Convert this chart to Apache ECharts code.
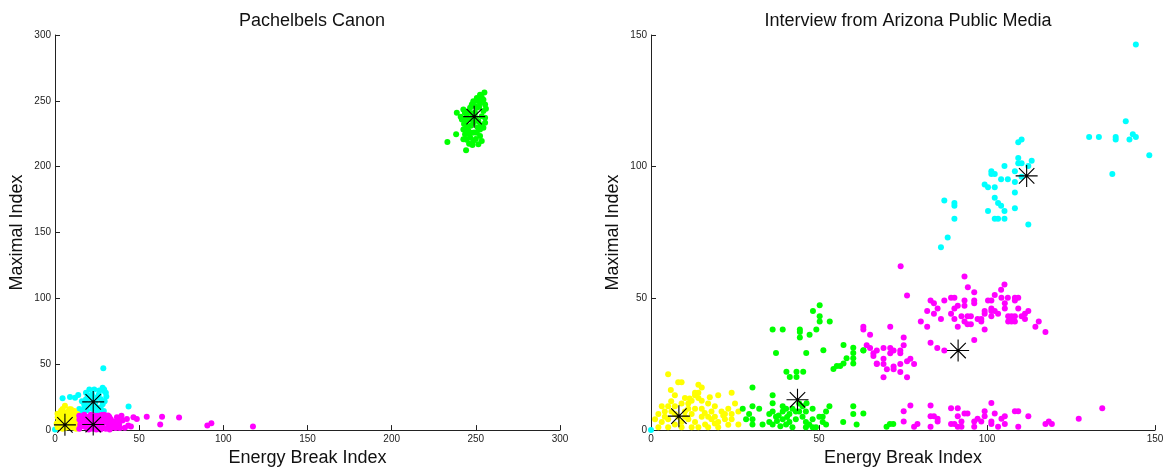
<!DOCTYPE html>
<html><head><meta charset="utf-8">
<script src="https://cdn.jsdelivr.net/npm/echarts@6/dist/echarts.min.js"></script>
<style>html,body{margin:0;padding:0;background:#fff}#c{width:1171px;height:472px}</style>
</head><body><div id="c"></div>
<script>
// ---------- Left plot: Pachelbels Canon ----------
const leftTitle = "Pachelbels Canon";
const rightTitle = "Interview from Arizona Public Media";
const xName = "Energy Break Index";
const yName = "Maximal Index";

const L_green = [[255.1,256.4],[252.5,254.7],[250.6,252.2],[248.5,249.7],[247.6,247.2],[254.5,250.9],[255.5,247.2],[252.5,248.4],
 [238.7,240.9],[242.6,243.4],[244.6,238.4],[246.6,244.7],[250.6,244.7],[254.5,242.2],[255.5,237.2],[255.5,233.4],
 [242.6,228.3],[243.6,224.6],[242.6,220.8],[246.6,222.1],[250.6,225.8],[252.5,228.3],[253.5,219.5],[238.3,224.6],
 [233.1,218.8],[244.2,212.5],[248.5,219.5],[247.6,225.8],[252.5,223.3],[241.7,235.9],[244.6,230.9],[246.6,235.9],
 [251.5,234.6],[253.5,238.4],[248.5,233.4],[249.5,241.0],[251.0,230.0],[245.5,227.5],[253.0,231.5],[249.0,226.0],
 [243.5,241.0],[245.5,242.0],[247.5,240.5],[252.0,245.5],[253.5,252.5],[249.5,246.0],[251.0,250.0],[244.0,235.0],
 [243.0,232.5],[254.5,229.5],[250.0,237.0],[247.0,231.0],[245.0,225.0],[244.5,220.5],[250.0,221.0],[248.0,216.5],
 [241.0,238.0],[256.0,244.0],[246.0,217.5],[251.5,217.0]];
const L_cyan = [[28.7,47.0],[4.5,24.1],[8.9,25.1],[11.9,24.6],[13.8,26.6],[18.4,28.4],[20.4,30.8],[23.3,30.8],[26.3,30.1],
 [28.3,32.1],[29.2,29.6],[24.3,24.6],[27.3,23.4],[28.3,19.7],[25.3,17.2],[22.3,16.0],[27.3,16.0],[17.4,19.7],[14.4,16.0],
 [18.4,23.4],[21.3,23.4],[29.2,30.8],[30.2,28.4],[43.7,17.9],[0.0,0.5],[16.0,22.0],[20.0,19.0],[24.0,21.0],[26.0,27.0],
 [16.0,14.5],[19.0,15.0],[22.0,27.0],[19.5,26.0],[25.0,13.5],[29.5,22.0],[30.5,25.5],[29.0,14.5],[17.5,17.5],[23.0,18.5]];
const L_yellow = [[5.9,18.4],[8.5,15.9],[10.5,13.4],[3.6,12.2],[7.5,10.9],[11.5,9.7],[2.6,6.0],[6.5,7.2],[10.5,6.0],[12.5,3.5],
 [1.6,2.2],[4.5,1.0],[8.5,2.2],[12.5,1.0],[9.5,15.9],[3.6,14.7],[6.5,13.4],[1.6,9.7],[13.4,12.2],[5.5,4.7],[9.5,8.5],
 [4.0,8.0],[8.0,5.0],[11.0,2.0],[2.5,3.5],[6.0,1.5],[12.0,7.5],[7.0,12.0],[1.0,5.0],[3.0,10.5],[5.0,11.5],[9.0,11.5],
 [12.5,10.5],[13.0,5.5],[1.5,12.5],[4.5,3.0],[7.5,3.5],[10.0,4.0],[11.5,14.5],[8.0,14.0],[4.5,16.0],[2.5,8.0]];
const L_magenta = [[14.4,10.9],[17.4,11.7],[21.3,11.7],[25.3,10.9],[29.2,11.7],[32.2,10.2],[15.4,6.0],[19.4,7.2],[23.3,6.0],
 [27.3,7.2],[31.2,6.0],[34.2,6.7],[14.4,1.0],[18.4,2.2],[22.3,1.0],[26.3,1.7],[30.2,1.0],[34.2,2.2],[36.2,6.0],[16.4,8.5],
 [24.3,8.5],[28.3,3.5],[20.0,4.0],[17.0,3.0],[32.0,3.5],[25.0,3.5],[36.8,9.7],[39.5,10.9],[42.7,8.5],[46.6,9.7],[48.6,8.5],
 [41.5,1.7],[43.5,3.5],[45.1,2.7],[54.5,10.2],[63.6,10.2],[73.7,9.5],[62.5,4.2],[90.5,3.5],[92.9,5.2],[117.6,2.7],
 [38.1,4.2],[40.1,7.2],[15.0,4.0],[18.5,5.0],[21.5,8.5],[23.0,11.0],[26.0,5.0],[28.5,9.5],[30.5,8.5],[33.0,8.5],
 [19.5,10.0],[27.5,11.5],[31.5,11.0],[35.5,3.5],[37.5,7.5],[21.0,2.5],[24.5,0.5],[29.0,5.5],[33.5,4.5],[16.5,10.5],
 [14.5,8.0],[20.0,0.5],[27.0,0.5],[32.5,0.5],[36.0,1.5],[38.5,1.5]];
const L_centers = [[249.0,238.0],[22.7,21.4],[5.9,4.0],[22.7,4.2]];

// ---------- Right plot: Interview from Arizona Public Media ----------
const R_cyan = [[0,0],[144.3,146.4],[141.3,117.3],[130.4,111.3],[133.3,111.3],[138.3,111.3],[138.3,110.3],[143.4,112.3],
 [144.3,111.3],[142.4,110.3],[148.3,104.3],[137.3,97.2],[109.3,109.3],[110.3,110.3],[109.3,103.3],[113.3,102.3],
 [109.3,101.3],[110.3,101.3],[112.3,100.3],[105.2,100.3],[101.3,98.3],[102.3,97.2],[101.3,97.2],[108.3,98.3],
 [110.3,96.2],[104.2,95.2],[106.2,95.2],[108.3,94.2],[99.3,93.2],[100.3,92.2],[102.3,92.2],[108.3,90.2],[102.3,88.2],
 [103.3,86.2],[104.2,85.2],[100.3,83.2],[105.2,83.2],[108.3,84.2],[102.3,80.2],[103.3,80.2],[105.2,80.2],[112.3,78.1],
 [87.3,87.2],[90.3,86.2],[90.3,85.2],[90.3,80.2],[88.3,73.1],[86.3,69.4]];
const R_magenta = [[74.3,62.2],[76.2,51.1],[93.3,58.3],[94.3,54.2],[96.2,52.3],[105.2,55.3],[104.2,53.3],[102.3,51.3],
 [83.2,49.2],[84.2,48.2],[87.3,49.2],[89.3,50.2],[90.3,50.2],[93.3,49.2],[96.2,49.2],[96.2,48.2],[100.3,49.2],[101.3,49.2],
 [104.3,50.2],[106.2,50.2],[108.3,50.2],[109.3,50.2],[108.3,49.2],[105.3,48.2],[85.3,46.2],[82.2,45.2],[84.2,44.2],
 [89.3,44.2],[91.3,47.2],[90.3,46.2],[93.3,47.2],[92.4,43.2],[90.3,42.2],[86.3,42.2],[80.3,41.2],[82.2,39.2],[91.3,39.2],
 [93.3,41.2],[94.2,40.2],[95.2,40.2],[94.2,43.2],[95.2,43.2],[97.2,42.2],[98.3,42.2],[99.3,45.2],[99.3,44.2],[101.3,46.2],
 [101.3,45.2],[102.3,45.2],[103.3,44.2],[101.3,43.2],[105.3,46.2],[106.3,43.2],[107.3,43.2],[108.3,43.2],[109.3,46.2],
 [110.3,43.2],[111.3,42.2],[112.3,45.2],[111.3,44.2],[106.3,41.2],[107.3,41.2],[108.3,41.2],[98.3,41.2],[99.3,38.2],
 [96.2,34.2],[115.4,41.2],[114.4,39.2],[117.4,37.2],
 [63.2,39.2],[63.2,38.2],[71.2,39.2],[65.2,36.2],[75.2,35.2],[83.2,33.2],[85.2,31.2],[87.3,30.2],[64.2,32.2],[65.2,31.2],
 [66.2,29.2],[66.2,28.1],[67.2,30.2],[69.2,31.2],[71.2,31.2],[71.2,29.2],[72.2,30.2],[74.2,30.2],[74.2,29.2],[75.2,32.2],
 [69.2,27.1],[67.2,25.1],[69.2,25.1],[70.2,23.1],[72.2,24.1],[72.2,23.1],[74.2,25.1],[74.2,22.1],[76.2,26.1],[77.2,27.1],
 [78.3,25.1],[76.2,20.1],[69.2,20.1],[67.2,25.3],
 [75.2,7.2],[77.2,9.3],[75.2,3.3],[78.3,1.3],[79.3,2.3],[83.2,9.3],[83.2,5.3],[84.2,5.3],[85.3,4.3],[85.3,3.3],[83.2,1.3],
 [89.3,8.3],[91.3,8.3],[91.3,5.3],[89.3,2.3],[90.3,2.3],[91.3,1.3],[92.4,1.3],[92.4,3.3],[93.3,6.3],[94.2,6.3],[96.2,3.3],
 [97.2,4.3],[96.2,1.3],[98.3,3.3],[99.3,7.2],[99.3,5.3],[101.3,10.3],[102.3,6.3],[101.3,3.3],[101.3,2.3],[103.3,1.3],
 [104.3,4.3],[105.3,5.3],[105.3,2.3],[108.3,7.2],[109.3,7.2],[109.3,1.3],[112.3,5.3],[117.4,2.3],[118.4,3.3],[119.3,2.3],
 [127.3,4.3],[134.3,8.3]];
const R_green = [[50.2,47.4],[48.2,45.2],[50.2,43.2],[50.2,41.2],[53.2,41.2],[49.2,38.2],[47.2,36.2],[36.2,38.2],[39.2,38.2],
 [44.3,38.2],[44.3,37.2],[44.3,35.2],[37.2,29.3],[46.2,29.3],[51.3,30.3],[57.3,32.3],[60.2,31.3],[60.2,29.3],[60.2,27.3],
 [60.2,25.3],[58.2,27.3],[57.3,25.3],[56.3,24.3],[55.3,24.3],[54.3,23.2],[63.2,30.3],[40.3,22.2],[43.3,22.2],[45.3,22.2],
 [41.3,20.2],[43.3,20.2],[30.2,16.2],[36.2,13.2],[36.2,10.2],[46.3,10.2],
 [27.3,8.1],[30.2,9.1],[32.2,8.1],[29.2,6.1],[30.2,4.1],[28.3,4.1],[30.2,2.1],[33.2,2.1],[36.2,7.1],[35.2,6.1],[37.2,5.1],
 [35.2,3.1],[36.2,2.1],[39.2,9.1],[39.2,7.1],[40.2,8.1],[41.2,6.1],[42.1,8.1],[43.1,7.1],[44.1,7.1],[46.1,7.1],[39.2,4.1],
 [41.2,3.1],[43.1,4.1],[45.1,5.1],[46.1,3.1],[47.1,2.1],[40.2,2.1],[42.1,1.1],[48.1,8.1],[48.1,4.1],[49.1,1.1],[50.1,5.1],
 [51.1,5.1],[52.1,7.1],[53.1,9.1],[51.1,3.1],[52.1,2.1],[57.2,3.1],[60.2,9.1],[60.2,6.1],[61.2,2.1],[44.1,10.1],[45.1,9.1],
 [46.1,1.1],[48.1,1.1],[63.2,30.2],[63.2,6.3],[70.1,1.3],[71.1,2.3],[72.1,2.3],[38.0,5.5],[40.5,5.0],[37.5,3.5],[38.5,1.5]];
const R_yellow = [[5.1,21.2],[8.1,18.2],[9.1,18.2],[5.9,15.2],[14.1,17.2],[15.1,16.2],[7.1,13.2],[10.1,12.2],[13.1,14.2],
 [14.1,14.2],[13.1,13.2],[14.1,12.2],[20.0,13.2],[24.0,14.2],[3.2,9.1],[5.1,9.1],[7.1,9.1],[9.1,10.1],[11.1,10.1],
 [12.1,11.1],[15.1,11.1],[17.0,10.1],[19.0,9.1],[25.0,10.1],[23.0,8.1],[2.2,6.1],[4.1,7.1],[6.1,7.1],[10.1,7.1],[13.1,8.1],
 [15.1,8.1],[18.0,7.1],[21.0,7.1],[22.0,6.1],[24.0,6.1],[26.0,7.1],[1.2,4.1],[3.2,3.1],[5.1,4.1],[7.1,2.1],[11.1,4.1],
 [13.1,3.1],[16.1,2.1],[18.0,4.1],[20.0,3.1],[24.0,4.1],[26.0,2.1],[2.2,1.1],[5.1,1.1],[9.1,1.1],[14.1,1.1],[17.0,1.1],
 [20.0,1.1],[4.1,5.1],[8.1,5.1],[10.1,5.1],[12.1,6.1],[15.1,5.1],[17.0,5.1],[19.0,5.1],[22.0,4.1],[11.1,8.1],[7.1,6.1],
 [9.1,3.1],[12.1,1.1],[16.0,6.5],[19.0,2.5],[21.5,5.5],[23.0,2.0],[6.0,11.0],[11.5,12.0],[17.5,12.5]];
const R_centers = [[111.8,96.5],[91.4,30.2],[43.6,11.5],[8.3,5.3]];

const xTicksL = {min:0, max:300, interval:50};
const yTicksL = {min:0, max:300, interval:50};
const xTicksR = {min:0, max:150, interval:50};
const yTicksR = {min:0, max:150, interval:50};

const COLORS = {green:'#00ff00', cyan:'#00ffff', yellow:'#ffff00', magenta:'#ff00ff'};
const STAR = 'path://M0 47.5L100 47.5L100 52.5L0 52.5Z M47.5 0L52.5 0L52.5 100L47.5 100Z M13.2 16.8L16.8 13.2L86.8 83.2L83.2 86.8Z M83.2 13.2L86.8 16.8L16.8 86.8L13.2 83.2Z';

const FONT = 'Liberation Sans, Arial, Helvetica, sans-serif';
function xAxis(idx, t){
  return {gridIndex:idx, type:'value', min:t.min, max:t.max, interval:t.interval,
    name:xName, nameLocation:'middle', nameGap:16,
    nameTextStyle:{fontSize:18, color:'#111', fontFamily:FONT},
    axisLine:{show:true, lineStyle:{color:'#222', width:1}},
    axisTick:{show:true, inside:true, length:5, lineStyle:{color:'#222'}},
    axisLabel:{margin:4, fontSize:10, color:'#222', fontFamily:FONT},
    splitLine:{show:false}};
}
function yAxis(idx, t){
  return {gridIndex:idx, type:'value', min:t.min, max:t.max, interval:t.interval,
    name:yName, nameLocation:'middle', nameGap:29,
    nameTextStyle:{fontSize:18, color:'#111', fontFamily:FONT},
    axisLine:{show:true, lineStyle:{color:'#222', width:1}},
    axisTick:{show:true, inside:true, length:5, lineStyle:{color:'#222'}},
    axisLabel:{margin:4, fontSize:10, color:'#222', fontFamily:FONT},
    splitLine:{show:false}};
}
function dots(idx, data, color){
  return {type:'scatter', xAxisIndex:idx, yAxisIndex:idx, data:data, symbol:'circle', symbolSize:6,
    itemStyle:{color:color, opacity:1}, silent:true};
}
function stars(idx, data){
  return {type:'scatter', xAxisIndex:idx, yAxisIndex:idx, data:data, symbol:STAR, symbolSize:22,
    itemStyle:{color:'#000', opacity:1}, z:5, silent:true};
}

const chart = echarts.init(document.getElementById('c'), null, {renderer:'canvas'});
chart.setOption({
  animation:false,
  backgroundColor:'#fff',
  title:[
    {text:leftTitle, left:307, top:7, textAlign:'center', textStyle:{fontSize:18, fontWeight:'normal', color:'#111', fontFamily:FONT}},
    {text:rightTitle, left:903, top:7, textAlign:'center', textStyle:{fontSize:18, fontWeight:'normal', color:'#111', fontFamily:FONT}}
  ],
  grid:[
    {left:55, top:35, width:505, height:398},
    {left:651, top:35, width:504, height:398}
  ],
  xAxis:[xAxis(0,xTicksL), xAxis(1,xTicksR)],
  yAxis:[yAxis(0,yTicksL), yAxis(1,yTicksR)],
  series:[
    dots(0, L_green, COLORS.green),
    dots(0, L_cyan, COLORS.cyan),
    dots(0, L_yellow, COLORS.yellow),
    dots(0, L_magenta, COLORS.magenta),
    stars(0, L_centers),
    dots(1, R_yellow, COLORS.yellow),
    dots(1, R_green, COLORS.green),
    dots(1, R_magenta, COLORS.magenta),
    dots(1, R_cyan, COLORS.cyan),
    stars(1, R_centers)
  ]
});
</script></body></html>
